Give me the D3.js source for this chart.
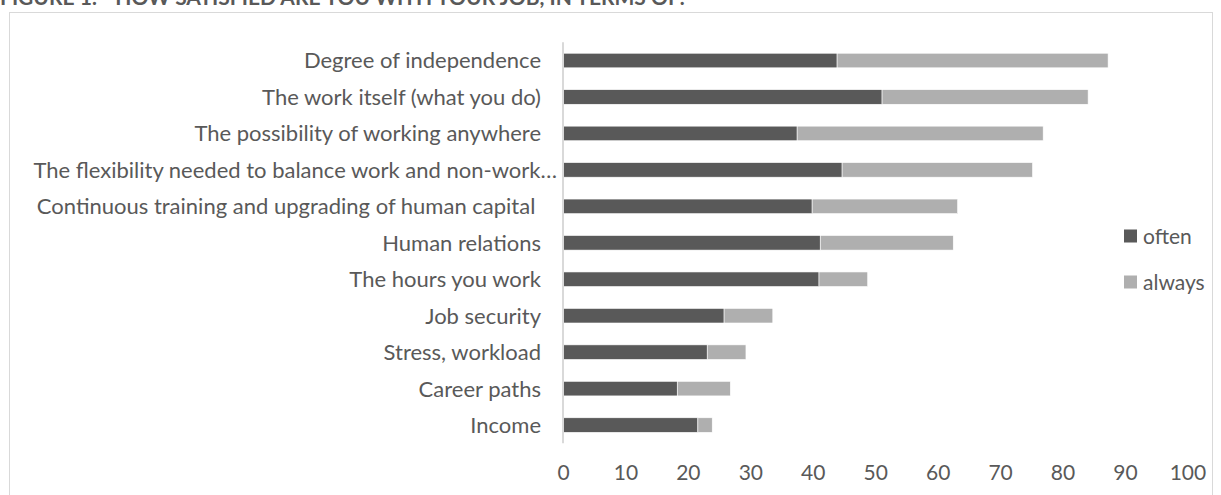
<!DOCTYPE html>
<html>
<head>
<meta charset="utf-8">
<script src="https://cdn.jsdelivr.net/npm/d3@7/dist/d3.min.js"></script>
<style>
  html, body { margin: 0; padding: 0; background: #fff; }
  svg { display: block; }
  text { font-family: Lato, "Open Sans", sans-serif; fill: #595959; }
</style>
</head>
<body>
<script>
// Satisfaction items, top to bottom
const categories = [
  "Degree of independence",
  "The work itself (what you do)",
  "The possibility of working anywhere",
  "The flexibility needed to balance work and non-work\u2026",
  "Continuous training and upgrading of human capital ",
  "Human relations",
  "The hours you work",
  "Job security",
  "Stress, workload",
  "Career paths",
  "Income"
];
// Share of respondents (%)
const often  = [43.9, 51.1, 37.5, 44.7, 39.9, 41.2, 41.0, 25.8, 23.1, 18.3, 21.6];
const always = [43.4, 33.0, 39.4, 30.5, 23.3, 21.3, 7.8, 7.8, 6.2, 8.5, 2.3];
const seriesNames = ["often", "always"];
const tickValues = [0, 10, 20, 30, 40, 50, 60, 70, 80, 90, 100];

const W = 1221, H = 495;
const colors = { often: "#595959", always: "#afafaf" };

const svg = d3.select("body").append("svg").attr("width", W).attr("height", H);

// Title (partly cropped at top)
svg.append("text")
  .attr("x", 0).attr("y", 5)
  .style("font-weight", "bold").style("font-size", "21px")
  .text("FIGURE 1: - HOW SATISFIED ARE YOU WITH YOUR JOB, IN TERMS OF:");

// Chart frame
svg.append("rect")
  .attr("x", 9.5).attr("y", 12.5).attr("width", 1203).attr("height", 500)
  .attr("fill", "#fff").attr("stroke", "#d9d9d9").attr("stroke-width", 1);

const x = d3.scaleLinear().domain([0, 100]).range([563, 1187.4]);
const y = d3.scaleBand().domain(categories).range([42.3, 443.3]).paddingInner(0.6).paddingOuter(0.3);

const rows = categories.map((c, i) => ({ cat: c, often: often[i], always: always[i] }));
const stacked = d3.stack().keys(seriesNames)(rows);

svg.append("g").selectAll("g")
  .data(stacked).join("g")
  .attr("fill", d => colors[d.key])
  .selectAll("rect")
  .data(d => d).join("rect")
  .attr("x", d => x(d[0]))
  .attr("y", d => y(d.data.cat))
  .attr("width", d => x(d[1]) - x(d[0]))
  .attr("height", y.bandwidth())
  .attr("stroke", "#fff").attr("stroke-width", 0.6);

// Vertical category axis line
svg.append("line")
  .attr("x1", x(0)).attr("x2", x(0))
  .attr("y1", 42.3).attr("y2", 443.3)
  .attr("stroke", "#d9d9d9").attr("stroke-width", 2);

// Category labels (truncated labels run up to the axis)
svg.append("g").selectAll("text")
  .data(categories).join("text")
  .attr("x", d => d.endsWith("\u2026") ? 557 : 541)
  .attr("y", d => y(d) + y.bandwidth() / 2)
  .attr("dy", "0.36em")
  .attr("text-anchor", "end")
  .style("font-size", "22px")
  .style("white-space", "pre")
  .text(d => d);

// Value axis tick labels
const xAxis = d3.axisBottom(x).tickValues(tickValues).tickSize(0).tickPadding(0);
const gx = svg.append("g").attr("transform", "translate(0,465)").call(xAxis);
gx.select(".domain").remove();
gx.selectAll("text").style("font-size", "21px").style("font-family", "Lato, sans-serif").attr("fill", "#595959");

// Legend
const lg = svg.append("g").selectAll("g")
  .data(seriesNames).join("g")
  .attr("transform", (d, i) => `translate(1124,${236 + i * 46})`);
lg.append("rect").attr("x", 0).attr("y", -6.5).attr("width", 13).attr("height", 13).attr("fill", d => colors[d]);
lg.append("text").attr("x", 19).attr("dy", "0.36em").style("font-size", "21px").text(d => d);
</script>
</body>
</html>
